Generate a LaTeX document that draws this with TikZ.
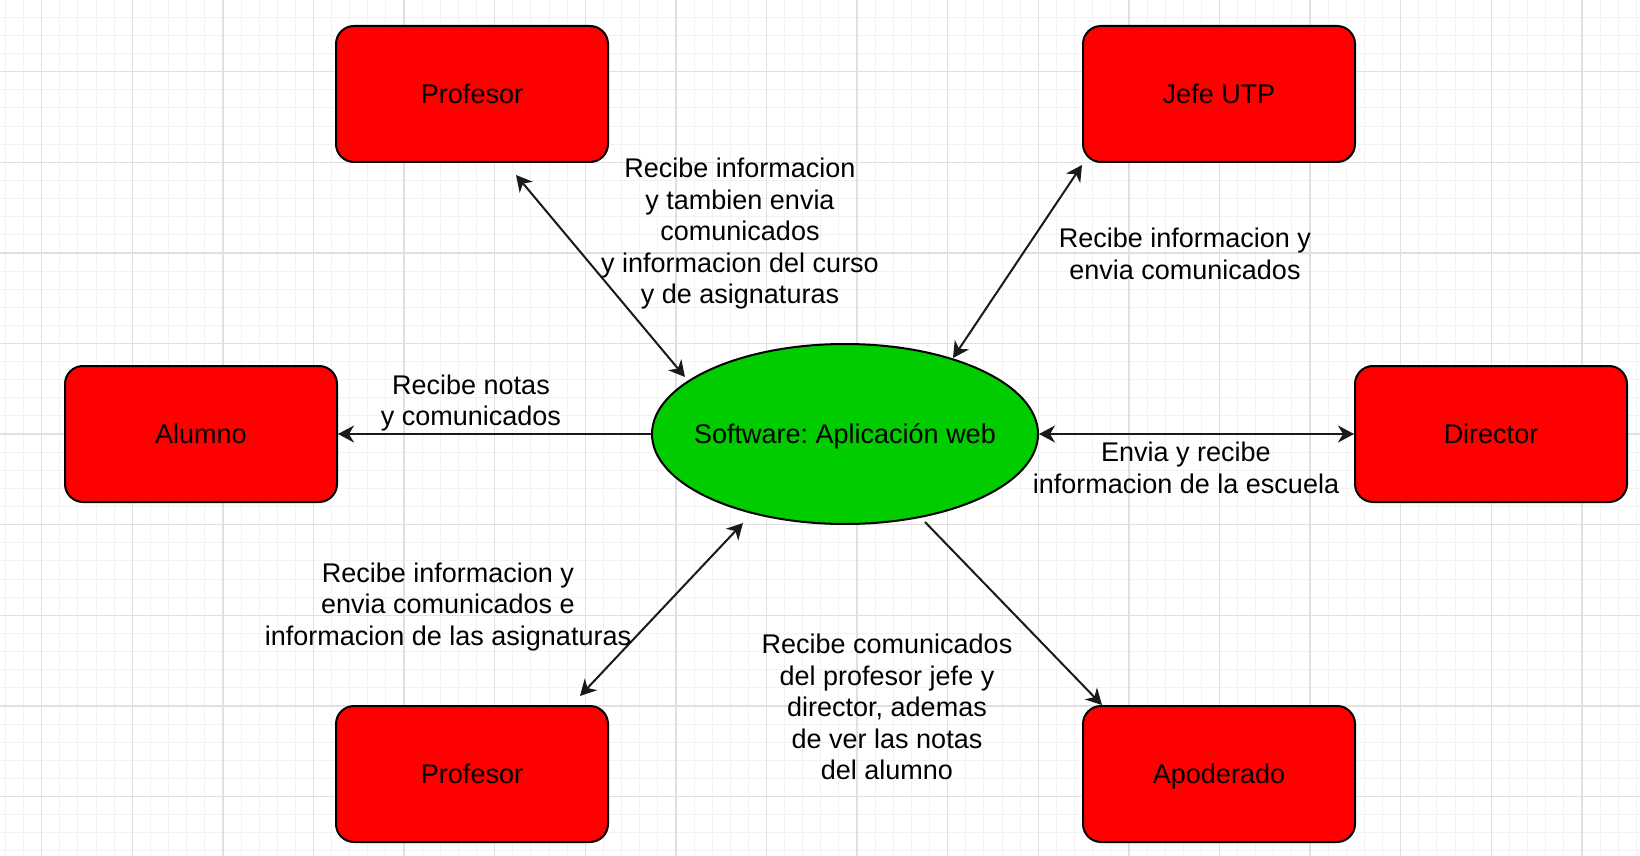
\documentclass[tikz,border=0pt]{standalone}
\usepackage{fontspec}
\setmainfont{Liberation Sans}
\frenchspacing
\usetikzlibrary{arrows.meta,calc,shapes.geometric}
\definecolor{boxred}{HTML}{FF0000}
\definecolor{ellgreen}{HTML}{00CC00}
\definecolor{gridminor}{HTML}{F2F2F2}
\definecolor{gridmajor}{HTML}{E0E0E0}
\tikzset{
  actor/.style={draw=black, line width=1pt, fill=boxred, rounded corners=9pt,
    minimum width=136pt, minimum height=68pt, inner sep=0pt,
    text height=9.7pt, text depth=0.3pt,
    font=\fontsize{13.5pt}{15.75pt}\selectfont},
  sysell/.style={draw=black, line width=1pt, fill=ellgreen, ellipse,
    minimum width=193pt, minimum height=90pt, inner sep=0pt,
    text height=9.7pt, text depth=0.3pt,
    font=\fontsize{13.5pt}{15.75pt}\selectfont},
  lbl/.style={align=center, inner sep=0pt,
    font=\fontsize{13.5pt}{15.75pt}\selectfont},
  conn/.style={line width=1pt, draw=black!90},
  tip/.tip={Stealth[length=8pt,width=8.5pt,inset=2.5pt]},
  minorline/.style={draw=gridminor, line width=0.5pt},
  majorline/.style={draw=gridmajor, line width=0.75pt},
}
\begin{document}
\begin{tikzpicture}[x=0.5pt,y=-0.5pt]
\useasboundingbox (0,0) rectangle (1640,856);
\fill[white] (0,0) rectangle (1640,856);
% grid
\foreach \i in {0,...,90} \draw[minorline] ({5.46+\i*18.12},0) -- ++(0,856);
\foreach \j in {0,...,46} \draw[minorline] (0,{17.34+\j*18.12}) -- ++(1640,0);
\foreach \i in {0,...,17} \draw[majorline] ({41.7+\i*90.6},0) -- ++(0,856);
\foreach \j in {0,...,8} \draw[majorline] (0,{71.7+\j*90.6}) -- ++(1640,0);

% nodes
\node[sysell] (ell) at (845,434) {\makebox[0pt]{Software: Aplicación web}};
\node[actor] (prof1) at (472,94) {Profesor};
\node[actor] (jefe) at (1219,94) {Jefe UTP};
\node[actor] (alumno) at (201,434) {Alumno};
\node[actor] (director) at (1491,434) {Director};
\node[actor] (prof2) at (472,774) {Profesor};
\node[actor] (apod) at (1219,774) {Apoderado};

% connectors
\draw[conn, tip-tip] ($(prof1.south)+(44,12)$) -- ($(ell.center)+(-160,-57)$);
\draw[conn, tip-tip] ($(jefe.south west)+(0,2)$) -- ($(ell.center)+(108,-76)$);
\draw[conn, -tip] (ell.west) -- (alumno.east);
\draw[conn, tip-tip] (ell.east) -- (director.west);
\draw[conn, tip-tip] ($(ell.center)+(-102,89)$) -- ($(prof2.north)+(108,-9)$);
\draw[conn, -tip] ($(ell.center)+(80,88)$) -- ($(apod.north west)+(20,0)$);

% labels
\node[lbl] (l1) at (740,234) {Recibe informacion\\ y tambien envia\\ comunicados\\y informacion del curso\\y de asignaturas};
\node[lbl] (l2) at (1185,254) {Recibe informacion y\\envia comunicados};
\node[lbl] (l3) at (471,403) {Recibe notas\\y comunicados};
\node[lbl] (l4) at (1186,468) {Envia y recibe\\informacion de la escuela};
\node[lbl] (l5) at (448,607) {Recibe informacion y\\envia comunicados e\\informacion de las asignaturas};
\node[lbl] (l6) at (887,707) {Recibe comunicados\\del profesor jefe y\\director, ademas\\de ver las notas\\del alumno};
\end{tikzpicture}
\end{document}
